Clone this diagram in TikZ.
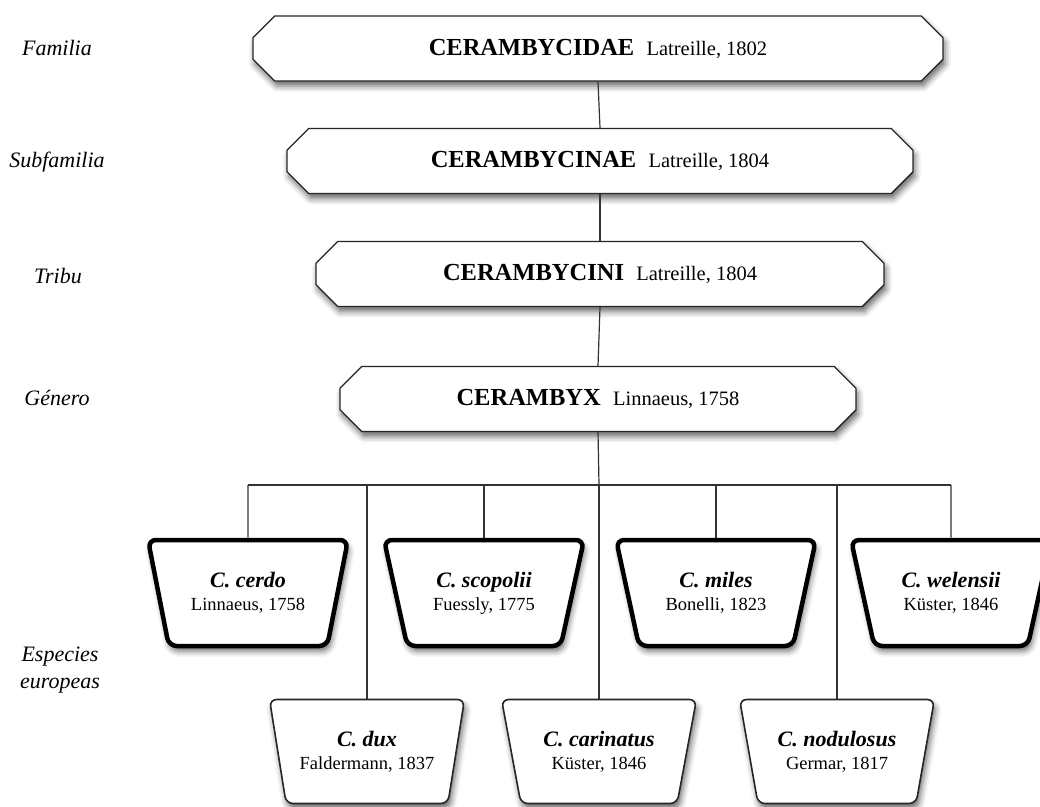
\documentclass[tikz,border=0pt]{standalone}
\usepackage{fontspec}
\setmainfont{Liberation Serif}
\usetikzlibrary{shapes.misc,shapes.geometric,shadows.blur}
\begin{document}
\begin{tikzpicture}[x=1pt,y=1pt,
  shd/.style={blur shadow={shadow xshift=2pt,shadow yshift=-5pt,shadow blur radius=6pt,shadow opacity=60}},
  rankbox/.style={chamfered rectangle,chamfered rectangle xsep=12pt,chamfered rectangle ysep=12pt,
    draw=black!85,line width=1.3pt,fill=white,inner sep=0pt,minimum height=65pt,shd,
    font=\fontsize{24.5}{28}\selectfont\bfseries},
  sptop/.style={trapezium,shape border rotate=180,trapezium stretches=true,trapezium angle=70,
    minimum width=200pt,minimum height=106pt,rounded corners=8pt,draw=black,line width=4.5pt,
    fill=white,inner sep=0pt,shd,align=center,font=\fontsize{22}{23}\selectfont},
  spbot/.style={trapezium,shape border rotate=180,trapezium stretches=true,trapezium angle=71.5,
    minimum width=195pt,minimum height=104pt,rounded corners=7pt,draw=black!85,line width=1.6pt,
    fill=white,inner sep=0pt,shd,align=center,font=\fontsize{22}{23}\selectfont},
  rank/.style={font=\fontsize{22}{27}\selectfont\itshape,align=center},
  conn/.style={draw=black!80,line width=1.2pt}]
\useasboundingbox (0,0) rectangle (1040,-806);
\newcommand\tauth[1]{{\fontsize{20.5}{23}\selectfont\mdseries #1}}
\newcommand\sname[1]{{\bfseries\itshape #1}}
\newcommand\sauth[1]{{\fontsize{18.5}{23}\selectfont #1}}

% rank labels
\node[rank] (lfam) at (57,-48) {Familia};
\node[rank] (lsub) at (57,-162) {Subfamilia};
\node[rank] (ltri) at (58,-276) {Tribu};
\node[rank] (lgen) at (57,-398) {Género};
\node[rank] (lesp) at (60,-670) {Especies\\europeas};

% hierarchy boxes
\node[rankbox,minimum width=690pt] (fam) at (598,-48.5) {CERAMBYCIDAE\hspace{0.5em}\tauth{Latreille, 1802}};
\node[rankbox,minimum width=626pt] (sub) at (600,-161) {CERAMBYCINAE\hspace{0.5em}\tauth{Latreille, 1804}};
\node[rankbox,minimum width=568pt] (tri) at (600,-274) {CERAMBYCINI\hspace{0.5em}\tauth{Latreille, 1804}};
\node[rankbox,minimum width=516pt] (gen) at (598,-399) {CERAMBYX\hspace{0.5em}\tauth{Linnaeus, 1758}};

% species, upper row
\node[sptop] (cerdo) at (248,-593) {\sname{C. cerdo}\\\sauth{Linnaeus, 1758}};
\node[sptop] (scop) at (484,-593) {\sname{C. scopolii}\\\sauth{Fuessly, 1775}};
\node[sptop] (miles) at (716,-593) {\sname{C. miles}\\\sauth{Bonelli, 1823}};
\node[sptop] (wel) at (951,-593) {\sname{C. welensii}\\\sauth{Küster, 1846}};

% species, lower row
\node[spbot] (dux) at (367,-751.5) {\sname{C. dux}\\\sauth{Faldermann, 1837}};
\node[spbot] (car) at (599,-751.5) {\sname{C. carinatus}\\\sauth{Küster, 1846}};
\node[spbot] (nod) at (837,-751.5) {\sname{C. nodulosus}\\\sauth{Germar, 1817}};

% connectors
\coordinate (bar) at (599,-485);
\coordinate (barL) at (248,-485);
\coordinate (barR) at (951,-485);
\draw[conn] (fam.south) -- (sub.north);
\draw[conn] (sub.south) -- (tri.north);
\draw[conn] (tri.south) -- (gen.north);
\draw[conn] (gen.south) -- (bar);
\draw[conn] (barL) -- (barR);
\draw[conn] (barL) -- (cerdo.north);
\draw[conn] (barR) -- (wel.north);
\draw[conn] (scop.north) -- (scop.north |- bar);
\draw[conn] (miles.north) -- (miles.north |- bar);
\draw[conn] (dux.north) -- (dux.north |- bar);
\draw[conn] (car.north) -- (car.north |- bar);
\draw[conn] (nod.north) -- (nod.north |- bar);
\end{tikzpicture}
\end{document}
